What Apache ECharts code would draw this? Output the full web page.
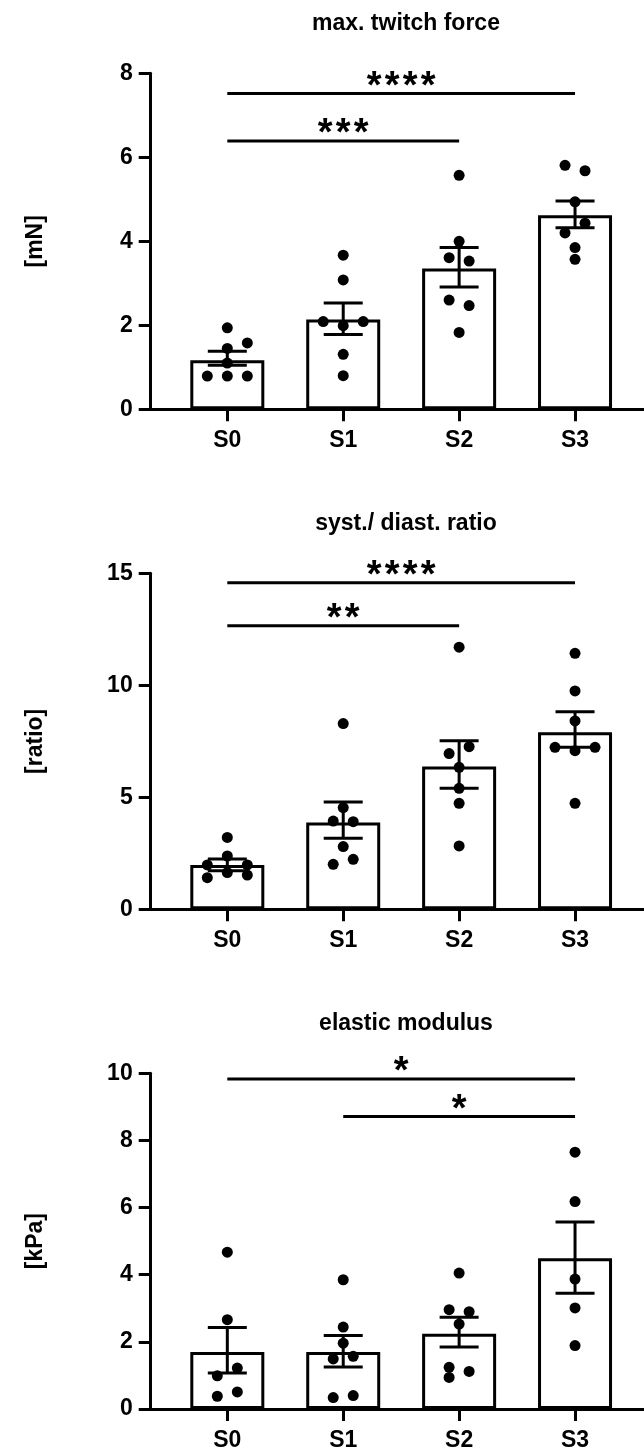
<!DOCTYPE html>
<html>
<head>
<meta charset="utf-8">
<script src="https://cdn.jsdelivr.net/npm/echarts@6/dist/echarts.min.js"></script>
<style>
html,body{margin:0;padding:0;background:#fff;}
#chart{width:644px;height:1452px;}
</style>
</head>
<body>
<div id="chart"></div>
<script>
// ---------- data ----------
const categories = ['S0', 'S1', 'S2', 'S3'];

const panelTitles = ['max. twitch force', 'syst./ diast. ratio', 'elastic modulus'];
const yNames = ['[mN]', '[ratio]', '[kPa]'];
const yMax = [8, 15, 10];
const yInterval = [2, 5, 2];

// panel 1: max. twitch force
const twitchMean = [1.17, 2.14, 3.35, 4.62];
const twitchErrLow = [1.05, 1.78, 2.91, 4.32];
const twitchErrHigh = [1.38, 2.53, 3.85, 4.96];
const twitchPoints = [
  [1.94, 1.58, 1.45, 1.10, 0.79, 0.79, 0.79],
  [3.67, 3.08, 2.09, 1.99, 2.09, 1.31, 0.80],
  [5.57, 4.00, 3.61, 3.53, 2.60, 2.47, 1.83],
  [5.81, 5.68, 4.94, 4.43, 4.20, 3.85, 3.57]
];
const twitchSlots = [
  [0, 2, 0, 0, -2, 0, 2],
  [0, 0, -2, 0, 2, 0, 0],
  [0, 0, -1, 1, -1, 1, 0],
  [-1, 1, 0, 1, -1, 0, 0]
];
const twitchSig = [[0, 3, 7.52, '****'], [0, 2, 6.39, '***']];

// panel 2: syst./diast. ratio
const ratioMean = [1.98, 3.88, 6.37, 7.90];
const ratioErrLow = [1.72, 3.17, 5.40, 7.23];
const ratioErrHigh = [2.25, 4.79, 7.53, 8.82];
const ratioPoints = [
  [3.21, 2.38, 1.98, 1.98, 1.64, 1.41, 1.53],
  [8.29, 4.54, 3.94, 3.91, 2.80, 2.01, 2.23],
  [11.70, 6.95, 7.26, 6.34, 5.40, 4.73, 2.83],
  [11.43, 9.75, 8.41, 7.23, 7.08, 7.23, 4.73]
];
const ratioSlots = [
  [0, 0, -2, 2, 0, -2, 2],
  [0, 0, -1, 1, 0, -1, 1],
  [0, -1, 1, 0, 0, 0, 0],
  [0, 0, 0, -2, 0, 2, 0]
];
const ratioSig = [[0, 3, 14.58, '****'], [0, 2, 12.66, '**']];

// panel 3: elastic modulus
const modulusMean = [1.70, 1.70, 2.24, 4.49];
const modulusErrLow = [1.07, 1.25, 1.85, 3.45];
const modulusErrHigh = [2.43, 2.19, 2.73, 5.57];
const modulusPoints = [
  [4.67, 2.66, 1.22, 0.99, 0.51, 0.38],
  [3.85, 2.44, 1.96, 1.49, 1.57, 0.34, 0.40],
  [4.05, 2.96, 2.90, 2.53, 1.24, 1.12, 0.94],
  [7.65, 6.18, 3.87, 3.01, 1.89]
];
const modulusSlots = [
  [0, 0, 1, -1, 1, -1],
  [0, 0, 0, -1, 1, -1, 1],
  [0, -1, 1, 0, -1, 1, -1],
  [0, 0, 0, 0, 0]
];
const modulusSig = [[0, 3, 9.83, '*'], [1, 3, 8.71, '*']];

// ---------- layout / style ----------
const FONT = '"Liberation Sans", Arial, sans-serif';
const FS = 23;
const panels = [
  {mean: twitchMean, lo: twitchErrLow, hi: twitchErrHigh, pts: twitchPoints, slots: twitchSlots, sig: twitchSig, top: 73.3},
  {mean: ratioMean, lo: ratioErrLow, hi: ratioErrHigh, pts: ratioPoints, slots: ratioSlots, sig: ratioSig, top: 573.3},
  {mean: modulusMean, lo: modulusErrLow, hi: modulusErrHigh, pts: modulusPoints, slots: modulusSlots, sig: modulusSig, top: 1073.3}
];
const GRID_H = 336;
const SLOT_PX = 10;
const LW = 3;
const STAR_STEP = 18;

const option = {
  backgroundColor: '#fff',
  animation: false,
  title: [], grid: [], xAxis: [], yAxis: [], series: []
};

panels.forEach((p, k) => {
  option.title.push({
    text: panelTitles[k],
    left: 401, top: p.top - 66, textAlign: 'center',
    textStyle: {fontFamily: FONT, fontSize: FS, fontWeight: 'bold', color: '#000'}
  });
  option.grid.push({left: 150.7, top: p.top, height: GRID_H, right: 0});
  option.xAxis.push({
    type: 'value', gridIndex: k, min: -0.661, max: 3.595,
    splitLine: {show: false},
    axisLine: {show: true, lineStyle: {color: '#000', width: LW}},
    axisTick: {show: true, customValues: [0, 1, 2, 3], length: 12, lineStyle: {color: '#000', width: LW}},
    axisLabel: {
      show: true, customValues: [0, 1, 2, 3], margin: 20,
      formatter: v => categories[Math.round(v)],
      fontFamily: FONT, fontSize: FS, fontWeight: 'bold', color: '#000'
    }
  });
  option.yAxis.push({
    type: 'value', gridIndex: k, min: 0, max: yMax[k], interval: yInterval[k],
    name: yNames[k], nameLocation: 'middle', nameGap: 104, nameRotate: 90,
    nameTextStyle: {fontFamily: FONT, fontSize: FS, fontWeight: 'bold', color: '#000'},
    splitLine: {show: false},
    axisLine: {show: true, onZero: false, lineStyle: {color: '#000', width: LW}},
    axisTick: {show: true, length: 12, lineStyle: {color: '#000', width: LW}},
    axisLabel: {margin: 18, fontFamily: FONT, fontSize: FS, fontWeight: 'bold', color: '#000'}
  });
  // bars
  option.series.push({
    type: 'bar', xAxisIndex: k, yAxisIndex: k, barWidth: 74, z: 2,
    data: p.mean.map((m, i) => [i, m]),
    itemStyle: {color: '#fff', borderColor: '#000', borderWidth: LW}
  });
  // dots
  const dots = [];
  p.pts.forEach((arr, i) => arr.forEach((v, j) => {
    dots.push({value: [i, v], symbolOffset: [p.slots[i][j] * SLOT_PX, 0]});
  }));
  option.series.push({
    type: 'scatter', xAxisIndex: k, yAxisIndex: k, symbol: 'circle', symbolSize: 11, z: 3,
    itemStyle: {color: '#000', opacity: 1}, data: dots
  });
  // error bars (mean ± SEM)
  option.series.push({
    type: 'custom', xAxisIndex: k, yAxisIndex: k, z: 4,
    data: p.mean.map((m, i) => [i, p.lo[i], p.hi[i]]),
    encode: {x: 0, y: [1, 2]},
    renderItem: (params, api) => {
      const i = api.value(0);
      const a = api.coord([i, api.value(1)]);
      const b = api.coord([i, api.value(2)]);
      const hw = 19.5;
      const st = {stroke: '#000', lineWidth: LW};
      return {type: 'group', children: [
        {type: 'line', shape: {x1: a[0], y1: a[1], x2: b[0], y2: b[1]}, style: st},
        {type: 'line', shape: {x1: a[0] - hw, y1: a[1], x2: a[0] + hw, y2: a[1]}, style: st},
        {type: 'line', shape: {x1: b[0] - hw, y1: b[1], x2: b[0] + hw, y2: b[1]}, style: st}
      ]};
    }
  });
  // significance brackets
  option.series.push({
    type: 'custom', xAxisIndex: k, yAxisIndex: k, z: 5,
    data: p.sig.map(s => [s[0], s[1], s[2]]),
    encode: {x: [0, 1], y: 2},
    renderItem: (params, api) => {
      const s = p.sig[params.dataIndex];
      const a = api.coord([s[0], s[2]]);
      const b = api.coord([s[1], s[2]]);
      const n = s[3].length;
      const cx = (a[0] + b[0]) / 2;
      const children = [
        {type: 'line', shape: {x1: a[0], y1: a[1], x2: b[0], y2: b[1]}, style: {stroke: '#000', lineWidth: LW}}
      ];
      for (let j = 0; j < n; j++) {
        children.push({type: 'text', style: {
          text: s[3][j], x: cx + (j - (n - 1) / 2) * STAR_STEP, y: a[1] - 6,
          align: 'center', verticalAlign: 'middle',
          font: 'bold 38px ' + FONT, fill: '#000'
        }});
      }
      return {type: 'group', children};
    }
  });
});

const chart = echarts.init(document.getElementById('chart'), null, {renderer: 'canvas'});
chart.setOption(option);
</script>
</body>
</html>
